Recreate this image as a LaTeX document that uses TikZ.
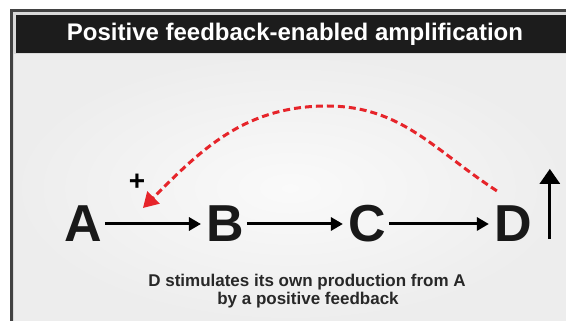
\documentclass[tikz,border=0pt]{standalone}
\usepackage{fontspec}
\setmainfont{Liberation Sans}
\usetikzlibrary{arrows.meta,positioning}
\definecolor{titlebar}{RGB}{28,28,28}
\definecolor{framegray}{RGB}{66,66,66}
\definecolor{fbred}{RGB}{230,36,42}
\definecolor{captiongray}{RGB}{40,40,40}

\begin{document}
\begin{tikzpicture}[
  x=1pt,y=1pt,
  node distance=104pt,
  species/.style={font=\fontsize{52}{52}\selectfont\bfseries,inner sep=0pt,text=black!90},
  link/.style={line width=3pt,-{Triangle[length=12pt,width=13pt]},shorten <=3pt,shorten >=5pt},
  feedback/.style={fbred,line width=3pt,dash pattern=on 7pt off 4pt,-{Triangle[length=15pt,width=17pt]}},
  caption/.style={font=\fontsize{17}{18}\selectfont\bfseries,text=captiongray,anchor=base}
]
  \useasboundingbox (0,0) rectangle (566,321);
  % frame and panel
  \fill[white] (0,0) rectangle (566,321);
  \fill[framegray] (10,0) rectangle (566,312);
  \fill[black!15] (13,0) rectangle (566,309);
  \fill[titlebar] (16,268) rectangle (566,306);
  \shade[inner color=white!98!black,outer color=black!7] (14,0) rectangle (566,266);
  \node[font=\fontsize{24}{24}\selectfont\bfseries,text=white] (title) at (295,287) {Positive feedback-enabled amplification};

  % pathway
  \node[species] (a) at (83,97) {A};
  \node[species,right=of a] (b) {B};
  \node[species,right=of b] (c) {C};
  \node[species,right=108pt of c] (d) {D};

  \draw[link] (a) -- (b);
  \draw[link] (b) -- (c);
  \draw[link] (c) -- (d);

  % D goes up
  \coordinate (rise0) at ([xshift=18pt,yshift=3pt]d.south east);
  \coordinate (rise1) at ([xshift=18pt,yshift=37pt]d.north east);
  \draw[line width=3pt,-{Triangle[length=15pt,width=20pt]}] (rise0) -- (rise1);

  % feedback loop
  \coordinate (fbstart) at ([xshift=3pt,yshift=15pt]d.north west);
  \coordinate (fbtop) at (327,215);
  \coordinate (fbend) at ([xshift=41pt,yshift=16pt]a.east);
  \node[font=\fontsize{28}{28}\selectfont\bfseries,inner sep=0pt] (plus) at (137,139) {+};
  \draw[feedback] (fbstart) to[out=147,in=0] (fbtop) to[out=180,in=45] (fbend);

  \node[caption] (caption1) at (307,34) {D stimulates its own production from A};
  \node[caption] (caption2) at (308,16) {by a positive feedback};
\end{tikzpicture}
\end{document}
